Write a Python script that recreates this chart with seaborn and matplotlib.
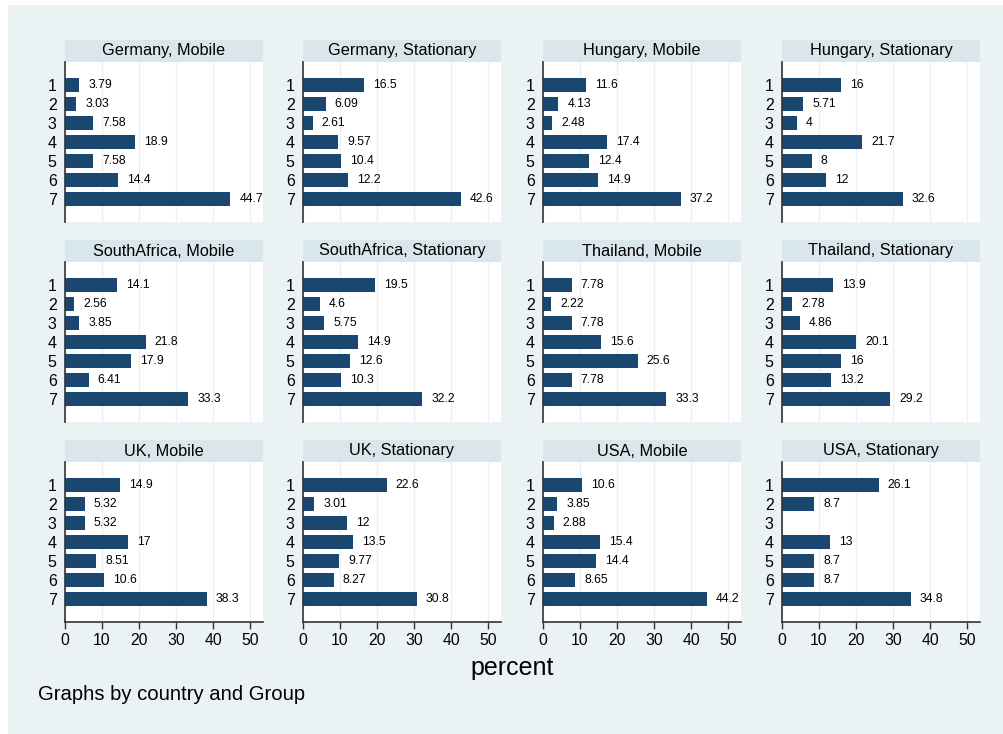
import matplotlib
matplotlib.use("Agg")
import matplotlib.pyplot as plt
import numpy as np
import pandas as pd
import seaborn as sns
from matplotlib.patches import Rectangle

# ── Data ──────────────────────────────────────────────────────────────────
categories = ["1", "2", "3", "4", "5", "6", "7"]
panels = [
    "Germany, Mobile", "Germany, Stationary", "Hungary, Mobile", "Hungary, Stationary",
    "SouthAfrica, Mobile", "SouthAfrica, Stationary", "Thailand, Mobile", "Thailand, Stationary",
    "UK, Mobile", "UK, Stationary", "USA, Mobile", "USA, Stationary",
]
germany_mobile = [3.79, 3.03, 7.58, 18.9, 7.58, 14.4, 44.7]
germany_stationary = [16.5, 6.09, 2.61, 9.57, 10.4, 12.2, 42.6]
hungary_mobile = [11.6, 4.13, 2.48, 17.4, 12.4, 14.9, 37.2]
hungary_stationary = [16, 5.71, 4, 21.7, 8, 12, 32.6]
southafrica_mobile = [14.1, 2.56, 3.85, 21.8, 17.9, 6.41, 33.3]
southafrica_stationary = [19.5, 4.6, 5.75, 14.9, 12.6, 10.3, 32.2]
thailand_mobile = [7.78, 2.22, 7.78, 15.6, 25.6, 7.78, 33.3]
thailand_stationary = [13.9, 2.78, 4.86, 20.1, 16, 13.2, 29.2]
uk_mobile = [14.9, 5.32, 5.32, 17, 8.51, 10.6, 38.3]
uk_stationary = [22.6, 3.01, 12, 13.5, 9.77, 8.27, 30.8]
usa_mobile = [10.6, 3.85, 2.88, 15.4, 14.4, 8.65, 44.2]
usa_stationary = [26.1, 8.7, np.nan, 13, 8.7, 8.7, 34.8]
x_ticks = [0, 10, 20, 30, 40, 50]

series = [germany_mobile, germany_stationary, hungary_mobile, hungary_stationary,
          southafrica_mobile, southafrica_stationary, thailand_mobile, thailand_stationary,
          uk_mobile, uk_stationary, usa_mobile, usa_stationary]

df = pd.concat(
    [pd.DataFrame({"panel": p, "cat": categories, "percent": v}) for p, v in zip(panels, series)],
    ignore_index=True,
)

# ── Style ─────────────────────────────────────────────────────────────────
sns.set_style("white")
plt.rcParams["font.family"] = ["Liberation Sans", "DejaVu Sans"]

BG = "#eaf2f3"
STRIP = "#d9e6eb"
BAR = "#1a476f"

W, H = 1004, 734
fig = plt.figure(figsize=(W / 100, H / 100), dpi=100, facecolor="white")
fig.patches.append(Rectangle((8 / W, 0), 1 - 8 / W, 1 - 5 / H, transform=fig.transFigure,
                             facecolor=BG, edgecolor="none", zorder=-10))

col_x = [65, 303, 543, 782]
row_top = [40, 240, 440]
pw, ph, sh = 198, 160, 22

for i, panel in enumerate(panels):
    r, c = divmod(i, 4)
    x0 = col_x[c]
    top = row_top[r]
    # strip header
    fig.patches.append(Rectangle((x0 / W, 1 - (top + sh) / H), pw / W, sh / H,
                                 transform=fig.transFigure, facecolor=STRIP,
                                 edgecolor="none", zorder=-5))
    fig.text((x0 + pw / 2) / W, 1 - (top + sh / 2) / H, panel, ha="center", va="center",
             fontsize=11.7, color="black")

    ax = fig.add_axes([x0 / W, 1 - (top + sh + ph) / H, pw / W, ph / H])
    sub = df[df["panel"] == panel]
    sns.barplot(data=sub, y="cat", x="percent", orient="h", order=categories,
                color=BAR, saturation=1, width=0.72, ax=ax, errorbar=None,
                linewidth=0, edgecolor="none")
    ax.set_facecolor("white")
    ax.set_xlim(0, 53.5)
    ax.set_ylim(6 + 1.21, -1.21)
    ax.set_xticks(x_ticks)
    ax.grid(axis="x", color=BG, linewidth=1)
    ax.set_axisbelow(True)
    ax.set_xlabel("")
    ax.set_ylabel("")
    for s in ["top", "right"]:
        ax.spines[s].set_visible(False)
    ax.spines["left"].set_color("#333333")
    ax.spines["left"].set_linewidth(1.2)
    ax.tick_params(axis="y", length=0, pad=6, labelsize=11.5, labelcolor="black")
    if r == 2:
        ax.spines["bottom"].set_color("#333333")
        ax.spines["bottom"].set_linewidth(1.2)
        ax.tick_params(axis="x", length=5, width=1, color="#333333", labelsize=11.3, pad=3,
                       direction="out", bottom=True, labelcolor="black")
    else:
        ax.spines["bottom"].set_visible(False)
        ax.tick_params(axis="x", length=0, labelbottom=False)

    for j, v in enumerate(sub["percent"].to_numpy()):
        if np.isnan(v):
            continue
        ax.annotate(f"{v:.3g}", xy=(v, j), xytext=(6.5, 0), textcoords="offset points",
                    va="center", ha="left", fontsize=8.7, color="black")

fig.text(512 / W, 1 - 668 / H, "percent", ha="center", va="center", fontsize=18,
         color="black")
fig.text(38 / W, 1 - 695 / H, "Graphs by country and Group", ha="left", va="center",
         fontsize=14.6, color="black")

fig.savefig("out.png", dpi=100, facecolor=fig.get_facecolor())
